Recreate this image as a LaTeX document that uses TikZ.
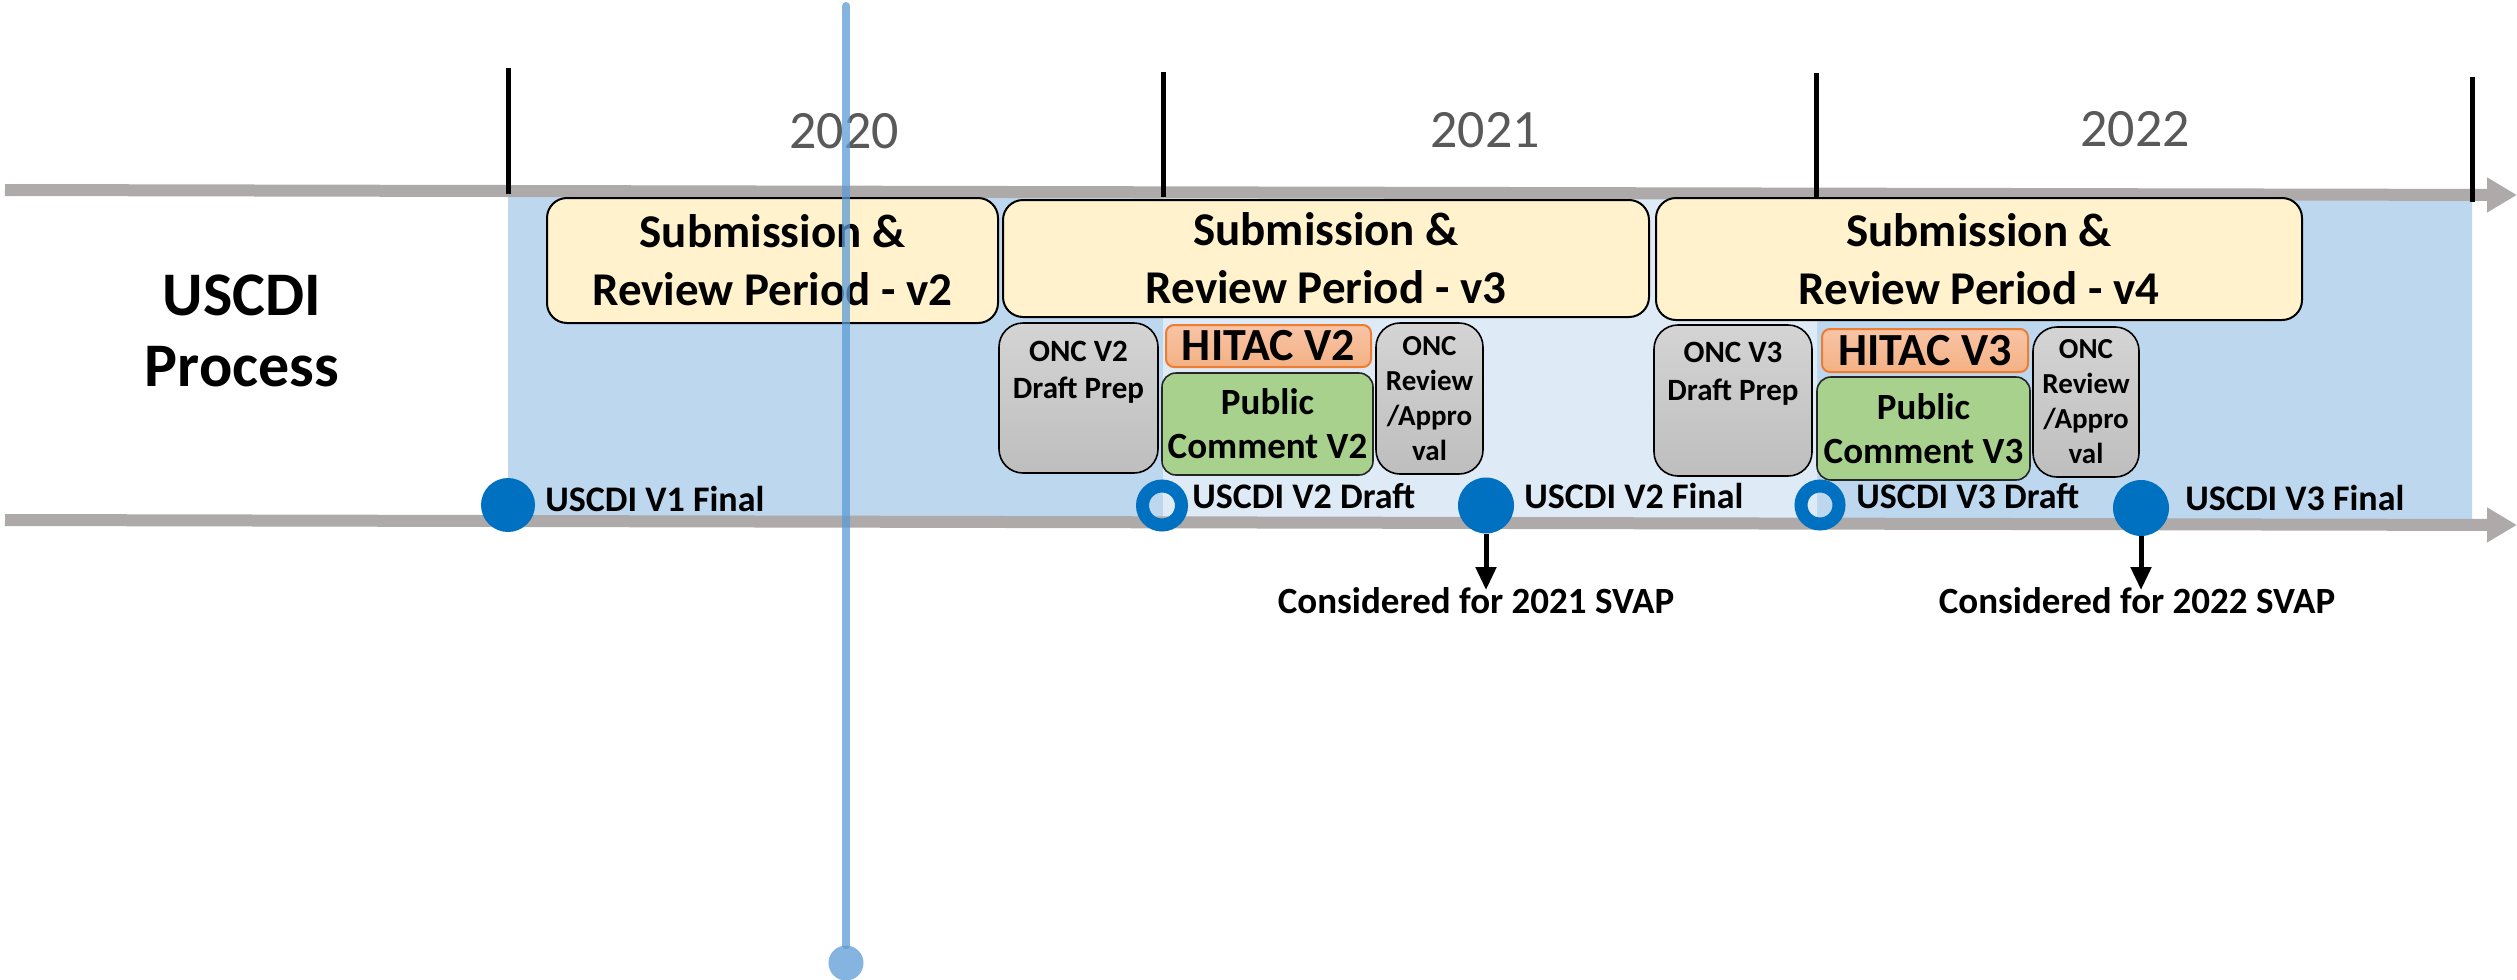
\documentclass[tikz,border=0pt]{standalone}
\usepackage{fontspec}
\setmainfont{Carlito}
\usetikzlibrary{arrows.meta}
\definecolor{bgblue}{HTML}{BDD7EE}
\definecolor{ltblue}{HTML}{DEEBF7}
\definecolor{barg}{HTML}{AEAAAA}
\definecolor{ylw}{HTML}{FFF2CC}
\definecolor{mblue}{HTML}{0070C0}
\definecolor{vline}{HTML}{5B9BD5}
\definecolor{hitacbot}{HTML}{F4B183}
\definecolor{hitactop}{HTML}{F8C4A6}
\definecolor{hitacb}{HTML}{ED7D31}
\definecolor{grn}{HTML}{A9D18E}
\definecolor{yeargray}{HTML}{595959}
\definecolor{grtop}{HTML}{D4D4D4}
\definecolor{grbot}{HTML}{BEBEBE}
\begin{document}
\begin{tikzpicture}[x=0.5pt,y=-0.5pt,
  graybar/.style={draw=barg, line width=6pt, -{Triangle[width=16.5pt,length=15pt]}},
  tickline/.style={draw=black, line width=2.5pt},
  yearlbl/.style={text=yeargray, font=\fontsize{27}{32}\selectfont, inner sep=0pt},
  yellowbox/.style={draw=black, line width=1pt, fill=ylw, rounded corners=10pt, inner sep=0pt, align=center, font=\bfseries\fontsize{23.5}{29}\selectfont},
  graybox/.style={draw=black, line width=0.8pt, top color=grtop, bottom color=grbot, rounded corners=12pt, inner sep=0pt},
  hitacbox/.style={draw=hitacb, line width=1pt, top color=hitactop, bottom color=hitacbot, rounded corners=4pt, inner sep=0pt, font=\bfseries\fontsize{23}{28}\selectfont},
  greenbox/.style={draw=black!85, line width=0.8pt, fill=grn, rounded corners=7pt, inner sep=0pt, align=center, font=\bfseries\fontsize{18.5}{22}\selectfont},
  revbox/.style={graybox, align=center, font=\bfseries\fontsize{14.5}{17.5}\selectfont},
  onctext/.style={anchor=base, inner sep=0pt, font=\bfseries\fontsize{15.5}{18.5}\selectfont},
  mfull/.style={circle, fill=mblue, inner sep=0pt},
  mring/.style={circle, draw=mblue, line width=6.5pt, inner sep=0pt, minimum size=19.5pt},
  mlabel/.style={anchor=base west, inner sep=0pt, font=\bfseries\fontsize{18}{22}\selectfont},
  clabel/.style={anchor=base, inner sep=0pt, font=\bfseries\fontsize{18.5}{22}\selectfont},
  sarrow/.style={draw=black, line width=2.5pt, -{Triangle[width=10pt,length=11.5pt]}},
  vl/.style={draw=vline, line width=4pt, line cap=round, opacity=0.75}
]
\useasboundingbox (0,0) rectangle (2517,980);
\fill[white] (0,0) rectangle (2517,980);

% backgrounds
\fill[bgblue] (508,196) -- (2472,200) -- (2472,524) -- (508,520) -- cycle;
\fill[ltblue] (1163,197) -- (1817,198) -- (1817,522) -- (1163,521) -- cycle;

% timeline bars
\coordinate (tl) at (5,190);
\coordinate (tr) at (2517,195);
\coordinate (bl) at (5,520);
\coordinate (br) at (2517,525);
\draw[graybar] (tl) -- (tr);
\draw[graybar] (bl) -- (br);

% ticks
\coordinate (t1a) at (508,68);   \coordinate (t1b) at (508,194);
\coordinate (t2a) at (1163,72);  \coordinate (t2b) at (1163,197);
\coordinate (t3a) at (1816,73);  \coordinate (t3b) at (1816,197);
\coordinate (t4a) at (2472,77);  \coordinate (t4b) at (2472,202);
\draw[tickline] (t1a) -- (t1b);
\draw[tickline] (t2a) -- (t2b);
\draw[tickline] (t3a) -- (t3b);
\draw[tickline] (t4a) -- (t4b);

% years
\node[yearlbl] (y20) at (844,131) {2020};
\node[yearlbl] (y21) at (1485,130) {2021};
\node[yearlbl] (y22) at (2135,129) {2022};

% left label
\node[align=center, inner sep=0pt, font=\bfseries\fontsize{31}{35.5}\selectfont] (proc) at (242,331) {USCDI\\Process};

% submission boxes
\node[yellowbox, minimum width=225.5pt, minimum height=62.5pt] (sv2) at (772.5,260.5) {Submission \&\\Review Period - v2};
\node[yellowbox, minimum width=323pt, minimum height=58.5pt] (sv3) at (1326,258.5) {Submission \&\\Review Period - v3};
\node[yellowbox, minimum width=323pt, minimum height=61pt] (sv4) at (1979,259) {Submission \&\\Review Period - v4};

% V2 process
\node[graybox, minimum width=79.5pt, minimum height=75pt] (onc2) at (1078.5,398) {};
\node[onctext] (onc2a) at (1078.5,361) {ONC V2};
\node[onctext] (onc2b) at (1078.5,398) {Draft Prep};
\node[hitacbox, minimum width=102.5pt, minimum height=21pt] (hit2) at (1268.5,346) {HITAC V2};
\node[greenbox, minimum width=105.5pt, minimum height=51pt] (pub2) at (1267.5,424) {Public\\Comment V2};
\node[revbox, minimum width=53.5pt, minimum height=75.5pt] (rev2) at (1429.5,398.5) {ONC\\Review\\/Appro\\val};

% V3 process
\node[graybox, minimum width=79pt, minimum height=75.5pt] (onc3) at (1733,400.5) {};
\node[onctext] (onc3a) at (1733,362) {ONC V3};
\node[onctext] (onc3b) at (1733,400) {Draft Prep};
\node[hitacbox, minimum width=103pt, minimum height=21.5pt] (hit3) at (1925,350.5) {HITAC V3};
\node[greenbox, minimum width=106.5pt, minimum height=51.5pt] (pub3) at (1923.5,428.5) {Public\\Comment V3};
\node[revbox, minimum width=53pt, minimum height=75pt] (rev3) at (2086,402) {ONC\\Review\\/Appro\\val};

% milestones
\node[mfull, minimum size=27pt] (v1f) at (508,505) {};
\node[mlabel] (lv1f) at (545,511) {USCDI V1 Final};
\node[mring] (v2d) at (1162,505.5) {};
\node[mlabel] (lv2d) at (1192,508) {USCDI V2 Draft};
\node[mfull, minimum size=28pt] (v2f) at (1486,505.5) {};
\node[mlabel] (lv2f) at (1524,508) {USCDI V2 Final};
\node[mring, minimum size=19pt] (v3d) at (1820,505) {};
\node[mlabel] (lv3d) at (1856,508) {USCDI V3 Draft};
\node[mfull, minimum size=28pt] (v3f) at (2141,508) {};
\node[mlabel] (lv3f) at (2185,510) {USCDI V3 Final};

% SVAP arrows
\node[clabel] (c21) at (1476,613) {Considered for 2021 SVAP};
\node[clabel] (c22) at (2137,613) {Considered for 2022 SVAP};
\coordinate (a21) at (1486,590);
\coordinate (a22) at (2141,590);
\draw[sarrow] (v2f.south) -- (a21);
\draw[sarrow] (v3f.south) -- (a22);

% current-date marker
\coordinate (vtop) at (846,6);
\node[circle, fill=vline, opacity=0.75, inner sep=0pt, minimum size=17.5pt] (vdot) at (846,963) {};
\draw[vl] (vtop) -- (vdot.north);
\end{tikzpicture}
\end{document}
